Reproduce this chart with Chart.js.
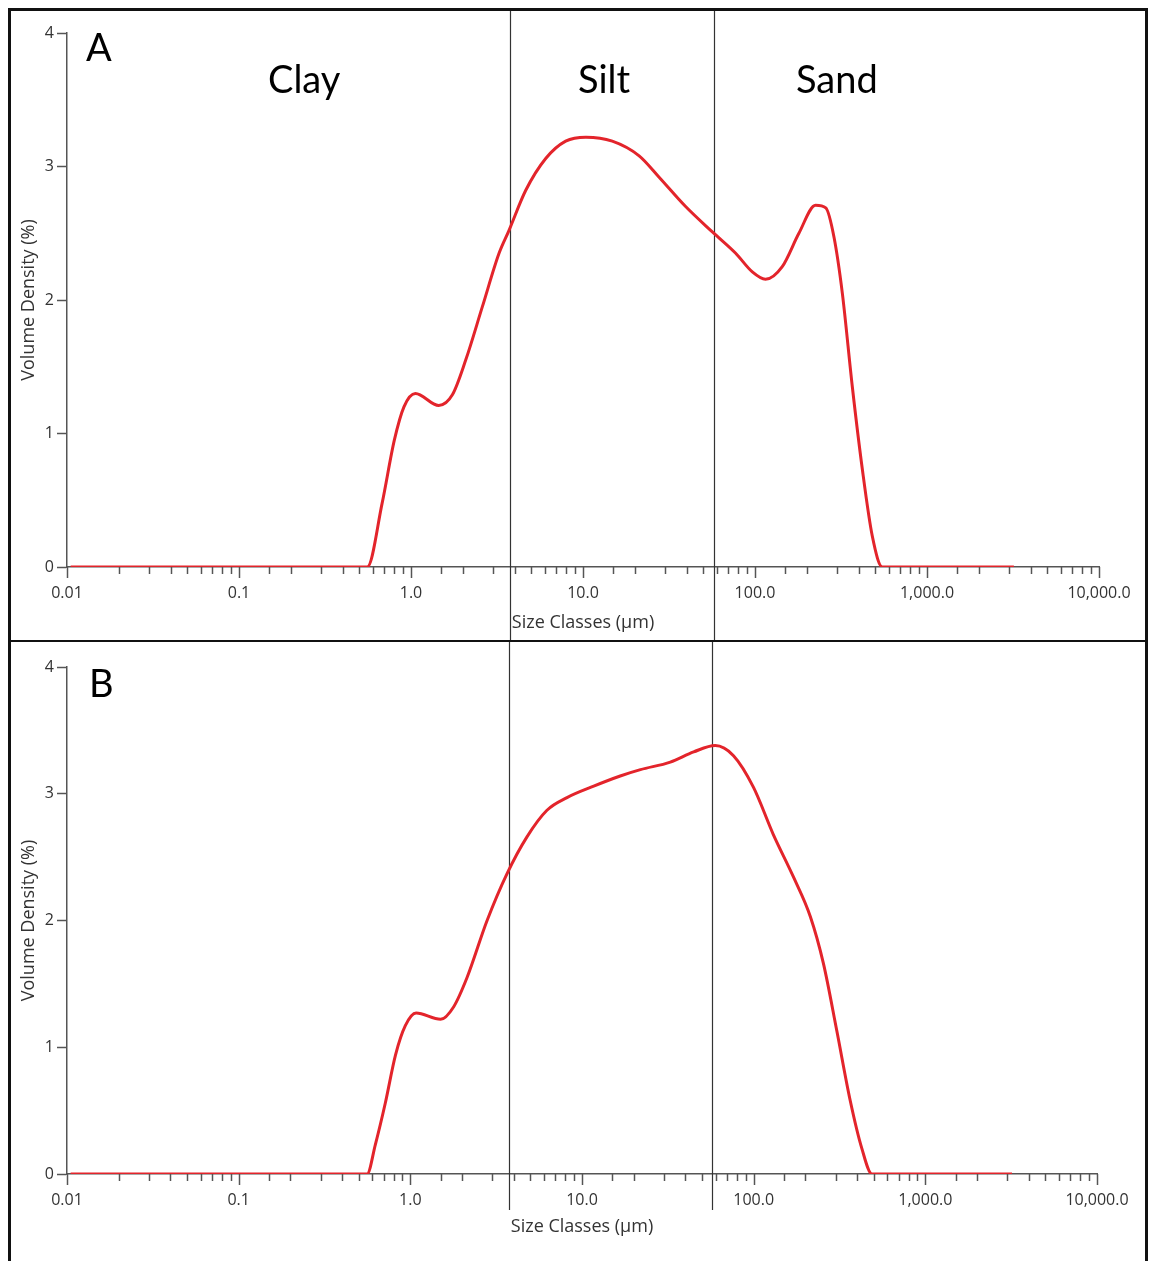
<!DOCTYPE html>
<html>
<head>
<meta charset="utf-8">
<script src="https://cdn.jsdelivr.net/npm/chart.js@4.4.1/dist/chart.umd.min.js"></script>
<style>
  body { margin: 0; background: #fff; }
  #page { position: relative; width: 1149px; height: 1261px; overflow: hidden; background: #fff; }
  .panel { position: absolute; left: 0; width: 1149px; }
  #panelA { top: 0; height: 642px; }
  #panelB { top: 642px; height: 619px; }
  .rule { position: absolute; background: #111; }
</style>
</head>
<body>
<div id="page">
  <div class="panel" id="panelA"><canvas id="chartA"></canvas></div>
  <div class="panel" id="panelB"><canvas id="chartB"></canvas></div>
  <!-- frame -->
  <div class="rule" style="left:8px;top:8px;width:1140px;height:3px"></div>
  <div class="rule" style="left:8px;top:8px;width:3px;height:1253px"></div>
  <div class="rule" style="left:1145px;top:8px;width:3px;height:1253px"></div>
  <div class="rule" style="left:8px;top:640px;width:1140px;height:2px"></div>
</div>
<script>
// size classes (um) and volume density (%) for each sample
const sizesA = [0.0105, 0.1, 0.5, 0.557, 0.68, 0.80, 0.91, 1.06, 1.45, 1.74, 2.08, 2.60, 3.25, 3.71, 4.64, 6.07, 7.93, 10.4, 14.8, 21.2, 27.7, 39.5, 56.5, 77.2, 96.5, 115, 144, 180, 225, 258, 288, 322, 368, 421, 481, 550, 1000, 3200];
const volumeA = [0, 0, 0, 0, 0.48, 0.95, 1.20, 1.30, 1.21, 1.29, 1.55, 1.95, 2.35, 2.52, 2.82, 3.06, 3.19, 3.22, 3.19, 3.08, 2.92, 2.70, 2.51, 2.35, 2.21, 2.155, 2.25, 2.50, 2.71, 2.69, 2.47, 2.05, 1.35, 0.73, 0.23, 0, 0, 0];

const sizesB = [0.0105, 0.1, 0.5, 0.56, 0.625, 0.715, 0.82, 0.935, 1.08, 1.50, 1.79, 2.14, 2.80, 3.66, 4.78, 6.25, 8.18, 11.7, 16.7, 21.9, 32.7, 44.7, 59.7, 76.3, 99.8, 130, 171, 214, 255, 305, 365, 427, 489, 1000, 3200];
const volumeB = [0, 0, 0, 0, 0.23, 0.56, 0.94, 1.17, 1.27, 1.22, 1.32, 1.55, 2.0, 2.37, 2.66, 2.87, 2.97, 3.06, 3.14, 3.19, 3.25, 3.33, 3.38, 3.30, 3.05, 2.68, 2.34, 2.03, 1.66, 1.13, 0.58, 0.20, 0, 0, 0];

// clay / silt / sand limits (um)
const boundaries = [3.75, 57.5];
const zoneNames = ['Clay', 'Silt', 'Sand'];
const yTicks = [0, 1, 2, 3, 4];

const axisColor = '#555';
const labelColor = '#333';

function fmtSize(v) {
  if (v < 1) return String(v);
  return v.toLocaleString('en-US', { minimumFractionDigits: 1, maximumFractionDigits: 1 });
}
function isDecade(v) {
  const l = Math.log10(v);
  return Math.abs(l - Math.round(l)) < 1e-6;
}

// vertical zone limits, drawn the full height of the panel
const zoneLines = {
  id: 'zoneLines',
  beforeDatasetsDraw(chart, args, opts) {
    const ctx = chart.ctx, x = chart.scales.x;
    ctx.save();
    ctx.strokeStyle = '#333';
    ctx.lineWidth = 1.2;
    boundaries.forEach(function (b) {
      const px = Math.round(x.getPixelForValue(b)) + 0.5;
      ctx.beginPath();
      ctx.moveTo(px, opts.top);
      ctx.lineTo(px, opts.bottom);
      ctx.stroke();
    });
    ctx.restore();
  }
};

// log axis tick marks: long at decades, short in between
const logTicks = {
  id: 'logTicks',
  afterDraw(chart) {
    const ctx = chart.ctx, x = chart.scales.x;
    const y0 = chart.chartArea.bottom;
    ctx.save();
    ctx.strokeStyle = axisColor;
    ctx.lineWidth = 1.5;
    x.ticks.forEach(function (t) {
      const px = Math.round(x.getPixelForValue(t.value)) + 0.5;
      ctx.beginPath();
      ctx.moveTo(px, y0);
      ctx.lineTo(px, y0 + (isDecade(t.value) ? 11 : 7));
      ctx.stroke();
    });
    ctx.restore();
  }
};

// panel letter and zone names
const panelText = {
  id: 'panelText',
  afterDraw(chart, args, opts) {
    const ctx = chart.ctx;
    ctx.save();
    ctx.fillStyle = '#000';
    ctx.textBaseline = 'alphabetic';
    ctx.font = '38px Lato';
    ctx.fillText(opts.letter, opts.letterX, opts.letterY);
    if (opts.zones) {
      opts.zones.forEach(function (z, i) {
        ctx.fillText(zoneNames[i], z, opts.zoneY);
      });
    }
    ctx.restore();
  }
};

function makeChart(id, sizes, volume, o) {
  const points = sizes.map(function (s, i) { return { x: s, y: volume[i] }; });
  return new Chart(document.getElementById(id), {
    type: 'line',
    data: {
      datasets: [{
        data: points,
        borderColor: '#e3242b',
        borderWidth: 3,
        pointRadius: 0,
        fill: false,
        cubicInterpolationMode: 'monotone'
      }]
    },
    options: {
      responsive: true,
      maintainAspectRatio: false,
      animation: false,
      layout: { padding: { top: o.top, right: o.right, left: 0, bottom: 0 } },
      plugins: {
        legend: { display: false },
        tooltip: { enabled: false },
        zoneLines: { top: o.lineTop, bottom: o.lineBottom },
        panelText: o.text
      },
      scales: {
        x: {
          type: 'logarithmic',
          min: 0.01,
          max: 10000,
          afterFit: function (scale) { scale.height = o.xHeight; },
          grid: { drawOnChartArea: false, drawTicks: false },
          border: { display: true, color: axisColor, width: 1.5 },
          ticks: {
            autoSkip: false,
            maxRotation: 0,
            minRotation: 0,
            padding: 17,
            color: labelColor,
            font: { family: 'Open Sans', size: 16 },
            callback: function (v) { return isDecade(v) ? fmtSize(v) : ''; }
          },
          title: {
            display: true,
            text: 'Size Classes (µm)',
            color: labelColor,
            font: { family: 'Open Sans', size: 18 },
            padding: o.xTitlePad
          }
        },
        y: {
          min: 0,
          max: 4,
          afterFit: function (scale) { scale.width = 67; },
          afterBuildTicks: function (scale) { scale.ticks = yTicks.map(function (v) { return { value: v }; }); },
          grid: { drawOnChartArea: false, drawTicks: true, tickLength: 10, color: axisColor, tickWidth: 1.5 },
          border: { display: true, color: axisColor, width: 1.5 },
          ticks: {
            padding: 3,
            color: labelColor,
            font: { family: 'Open Sans', size: 16 }
          },
          title: {
            display: true,
            text: 'Volume Density (%)',
            color: labelColor,
            font: { family: 'Open Sans', size: 18 },
            padding: 18
          }
        }
      }
    },
    plugins: [zoneLines, logTicks, panelText]
  });
}

makeChart('chartA', sizesA, volumeA, {
  top: 33, right: 50, xHeight: 75, xTitlePad: 8, lineTop: 11, lineBottom: 642,
  text: { letter: 'A', letterX: 86, letterY: 61, zones: [268, 578, 796], zoneY: 93 }
});
makeChart('chartB', sizesB, volumeB, {
  top: 25, right: 52, xHeight: 87, xTitlePad: 23, lineTop: 0, lineBottom: 568,
  text: { letter: 'B', letterX: 89, letterY: 55 }
});
</script>
</body>
</html>
